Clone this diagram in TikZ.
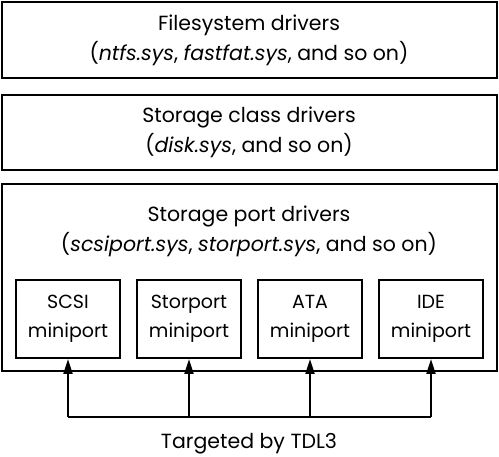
\documentclass[tikz,border=0pt]{standalone}
\usepackage{fontspec}
\setmainfont{Poppins}
\usetikzlibrary{positioning,arrows.meta}

\begin{document}
\begin{tikzpicture}[font=\fontsize{20.5}{30}\selectfont,
	layer/.style={draw, line width=2pt, minimum width=495pt, align=center, inner sep=0pt},
	mini/.style={draw, line width=2pt, minimum width=104pt, minimum height=78pt, align=center, inner sep=0pt, font=\fontsize{19}{29}\selectfont},
	arr/.style={-{Triangle[length=15pt, width=9pt]}, line width=2pt}]
	\useasboundingbox (0pt,0pt) rectangle (499pt,-457pt);

	\node [layer, minimum height=76pt] (fs) at (249pt,-40pt) {Filesystem drivers\\(\textit{ntfs.sys}, \textit{fastfat.sys}, and so on)};
	\node [layer, minimum height=75pt] (class) at (249pt,-132.5pt) {Storage class drivers\\(\textit{disk.sys}, and so on)};
	\node [layer, minimum height=187pt] (port) at (249pt,-277.5pt) {};
	\node (portlabel) at (249pt,-231pt) [align=center] {Storage port drivers\\(\textit{scsiport.sys}, \textit{storport.sys}, and so on)};

	\node [mini] (scsi) at (68pt,-319pt) {SCSI\\miniport};
	\node [mini, right=15pt of scsi] (storport) {Storport\\miniport};
	\node [mini, right=15pt of storport] (ata) {ATA\\miniport};
	\node [mini, right=15pt of ata] (ide) {IDE\\miniport};

	\coordinate (bus) at (249pt,-417pt);
	\node (tdl) at (249pt,-444pt) {Targeted by TDL3};

	\draw [line width=2pt] (scsi.south |- bus) -- (ide.south |- bus);
	\foreach \m in {scsi, storport, ata, ide}
		\draw [arr] (\m.south |- bus) -- (\m.south);
\end{tikzpicture}
\end{document}
